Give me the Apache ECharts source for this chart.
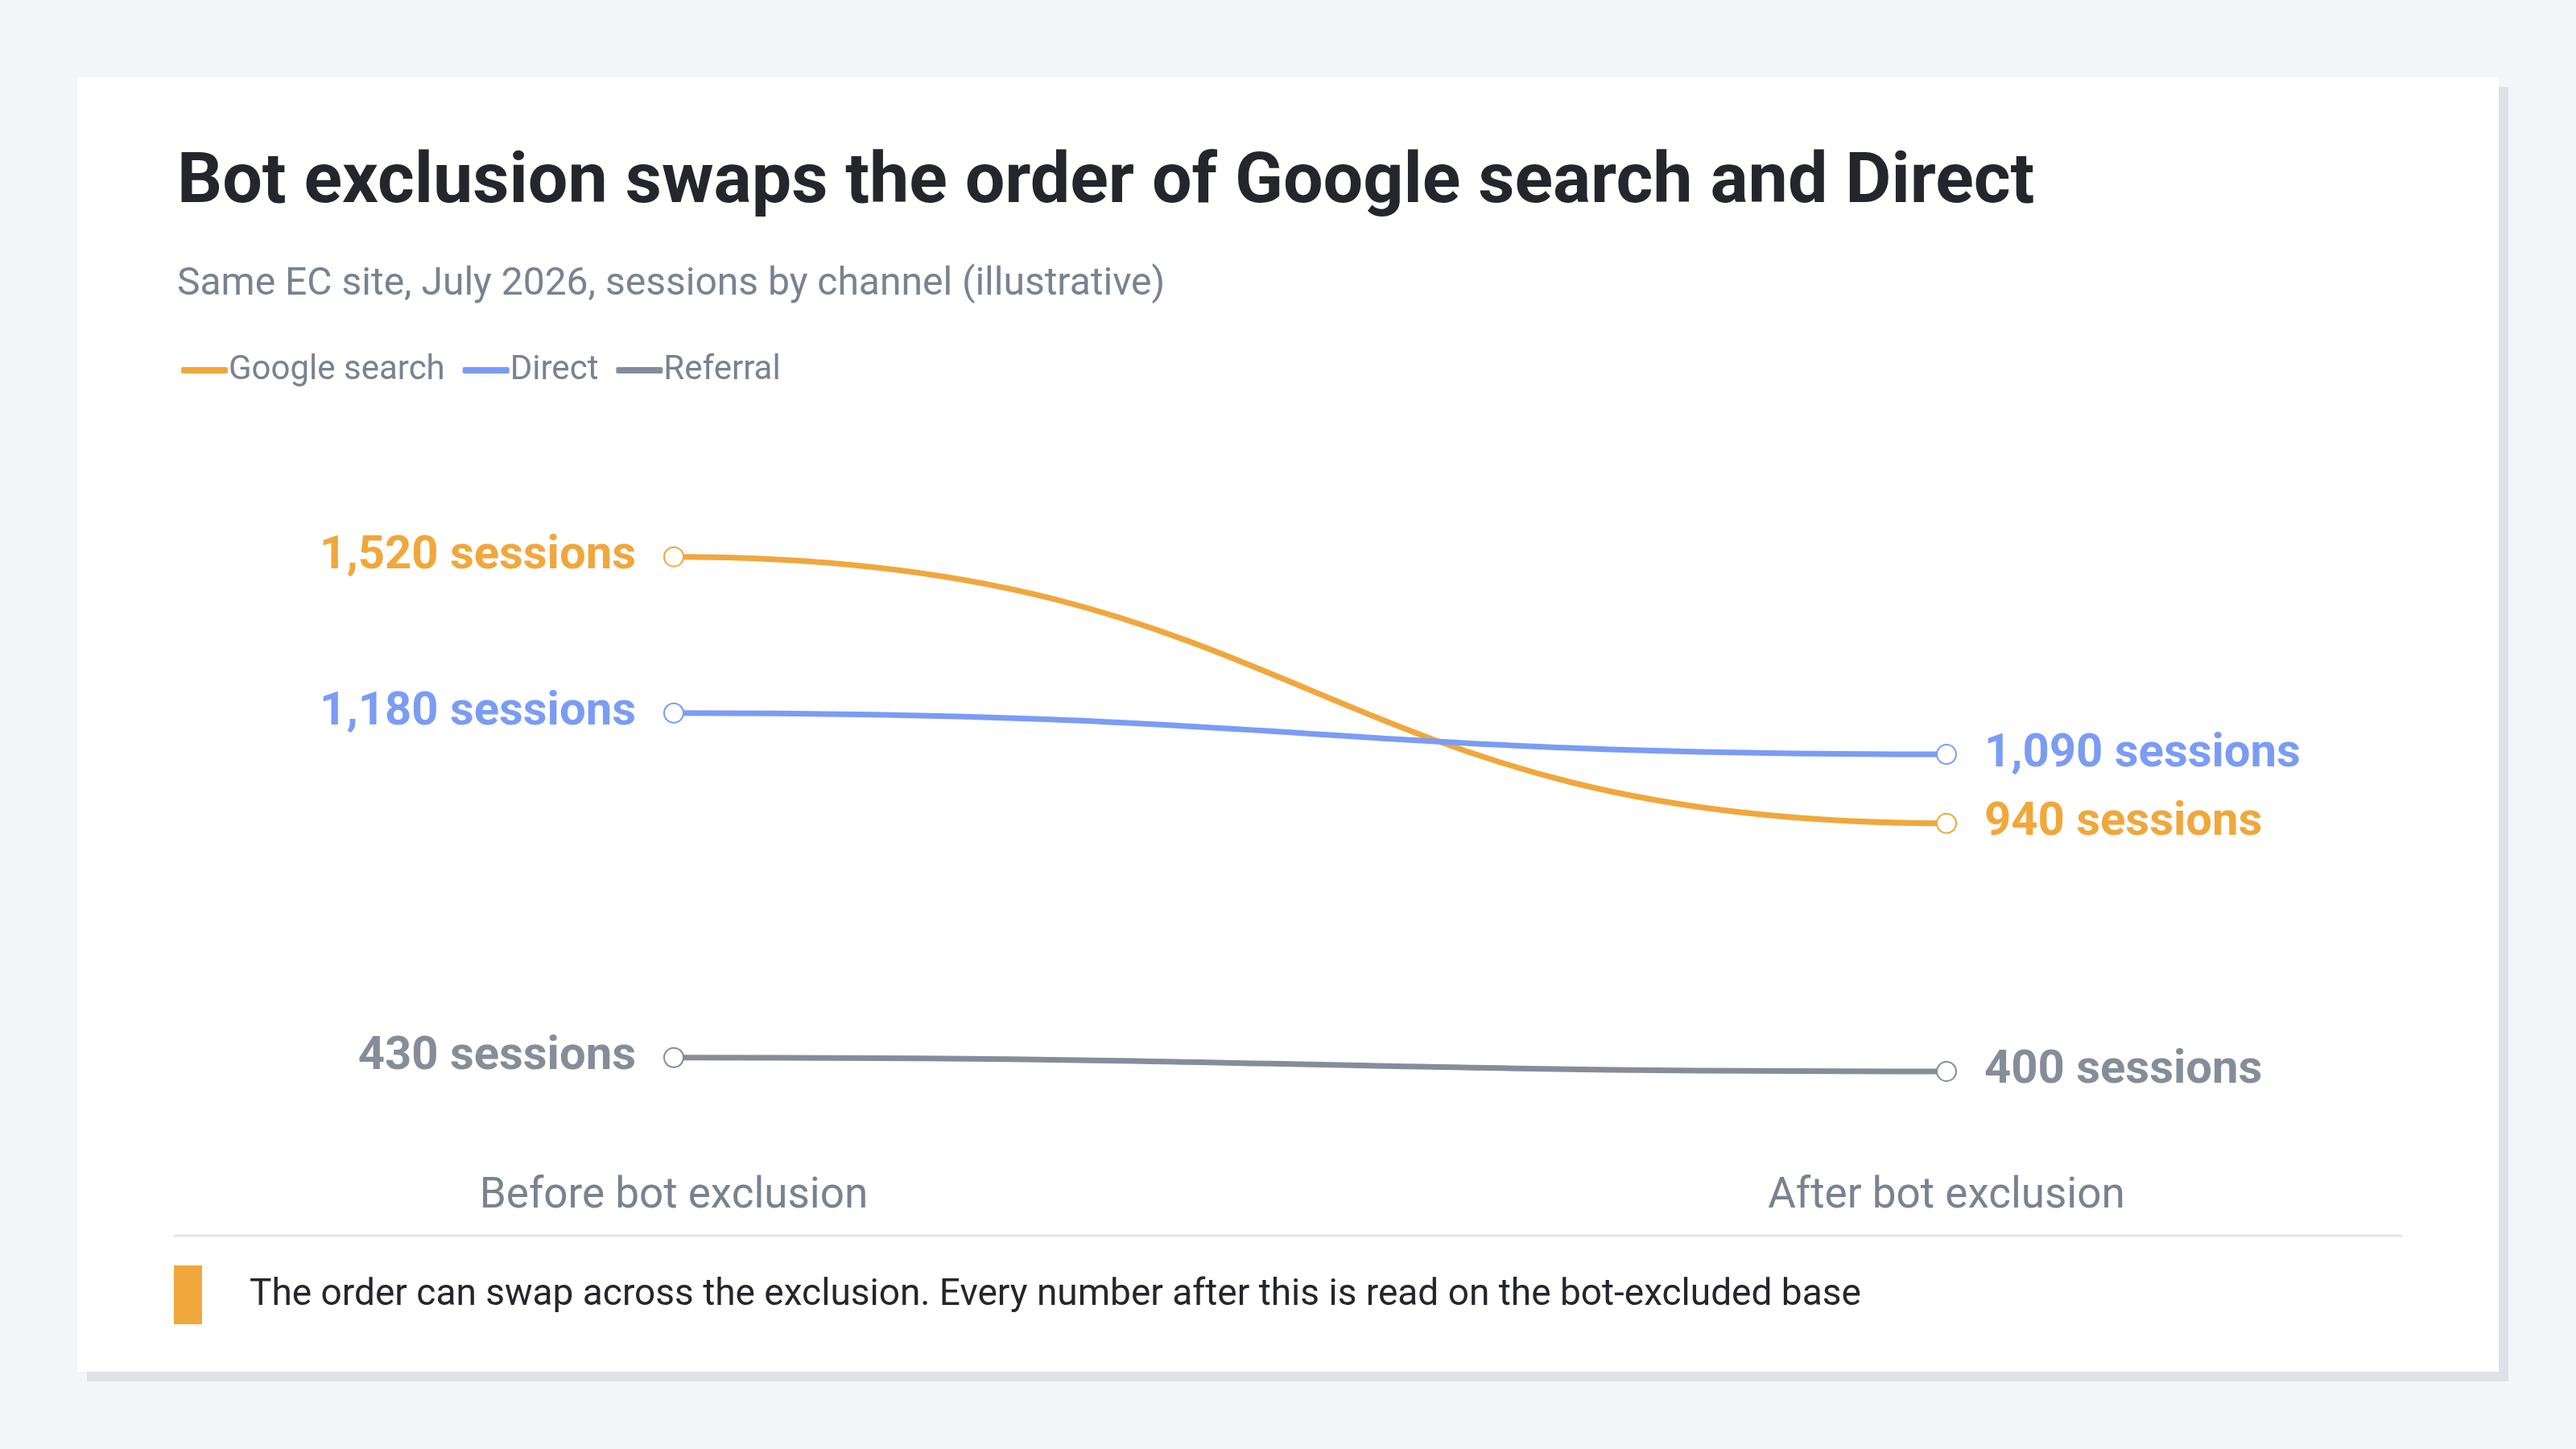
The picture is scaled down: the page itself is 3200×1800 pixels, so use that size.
<!DOCTYPE html>
<html>
<head>
<meta charset="utf-8">
<script src="https://cdn.jsdelivr.net/npm/echarts@6/dist/echarts.min.js"></script>
<style>
  html, body { margin: 0; padding: 0; background: #f4f5f8; }
  #main { width: 3200px; height: 1800px; }
</style>
</head>
<body>
<div id="main"></div>
<script>
// 数据
const stages = ['Before bot exclusion', 'After bot exclusion'];
const channels = [
  { name: 'Google search', color: '#f0a73c', values: [1520, 940] },
  { name: 'Direct', color: '#7b9cf5', values: [1180, 1090] },
  { name: 'Referral', color: '#868d99', values: [430, 400] }
];
const font = 'Roboto, "Noto Sans", sans-serif';

let chart = echarts.init(document.getElementById('main'));

// 曲线：两点之间的S形贝塞尔
function curveSeries(ch) {
  return {
    type: 'custom',
    name: ch.name,
    silent: true,
    z: 1,
    data: [[0, ch.values[0], 1, ch.values[1]]],
    encode: { x: [0, 2], y: [1, 3] },
    renderItem: function (params, api) {
      const p1 = api.coord([api.value(0), api.value(1)]);
      const p2 = api.coord([api.value(2), api.value(3)]);
      const dx = (p2[0] - p1[0]) / 2;
      return {
        type: 'bezierCurve',
        shape: {
          x1: p1[0], y1: p1[1], x2: p2[0], y2: p2[1],
          cpx1: p1[0] + dx, cpy1: p1[1], cpx2: p2[0] - dx, cpy2: p2[1]
        },
        style: { stroke: ch.color, lineWidth: 7, fill: null }
      };
    }
  };
}

function pointSeries(ch) {
  return {
    type: 'line',
    name: ch.name,
    z: 3,
    data: ch.values.map((v, i) => ({
      value: v,
      label: {
        show: true,
        position: i === 0 ? 'left' : 'right',
        distance: 34,
        formatter: (p) => p.value.toLocaleString('en-US') + ' sessions'
      }
    })),
    symbol: 'emptyCircle',
    symbolSize: 24,
    itemStyle: { color: ch.color, borderColor: ch.color, borderWidth: 5 },
    lineStyle: { opacity: 0 },
    label: { color: ch.color, fontSize: 58, fontWeight: 'bold', fontFamily: font }
  };
}

chart.setOption({
  backgroundColor: '#f4f5f8',
  animation: false,
  graphic: [
    { type: 'rect', shape: { x: 108, y: 108, width: 3008, height: 1608 }, style: { fill: '#dfe1e6' }, z: -2 },
    { type: 'rect', shape: { x: 96, y: 96, width: 3008, height: 1608 }, style: { fill: '#ffffff' }, z: -1 },
    { type: 'text', left: 220, top: 185, style: { text: 'Bot exclusion swaps the order of Google search and Direct', fontSize: 88, fontWeight: 'bold', fill: '#24262b', fontFamily: font } },
    { type: 'text', left: 220, top: 330, style: { text: 'Same EC site, July 2026, sessions by channel (illustrative)', fontSize: 48, fill: '#7a8290', fontFamily: font } },
    { type: 'line', shape: { x1: 216, y1: 1535, x2: 2984, y2: 1535 }, style: { stroke: '#e3e5ea', lineWidth: 3 } },
    { type: 'rect', shape: { x: 216, y: 1572, width: 35, height: 73 }, style: { fill: '#f0a73c' } },
    { type: 'text', left: 310, top: 1586, style: { text: 'The order can swap across the exclusion. Every number after this is read on the bot-excluded base', fontSize: 46, fill: '#24262b', fontFamily: font } }
  ],
  legend: {
    left: 220, top: 434,
    icon: 'roundRect', itemWidth: 58, itemHeight: 8, itemGap: 22,
    textStyle: { fontSize: 42, color: '#7a8290', fontFamily: font, padding: [0, 0, 0, -4] },
    data: channels.map(c => ({ name: c.name, itemStyle: { color: c.color } }))
  },
  grid: { left: 837, right: 782, top: 646, bottom: 412 },
  xAxis: {
    type: 'category', data: stages, boundaryGap: false,
    axisLine: { show: false }, axisTick: { show: false }, splitLine: { show: false },
    axisLabel: { fontSize: 53, color: '#7a8290', margin: 72, fontFamily: font }
  },
  yAxis: { type: 'value', min: 300, max: 1600, show: false },
  series: channels.map(curveSeries).concat(channels.map(pointSeries))
});
</script>
</body>
</html>
